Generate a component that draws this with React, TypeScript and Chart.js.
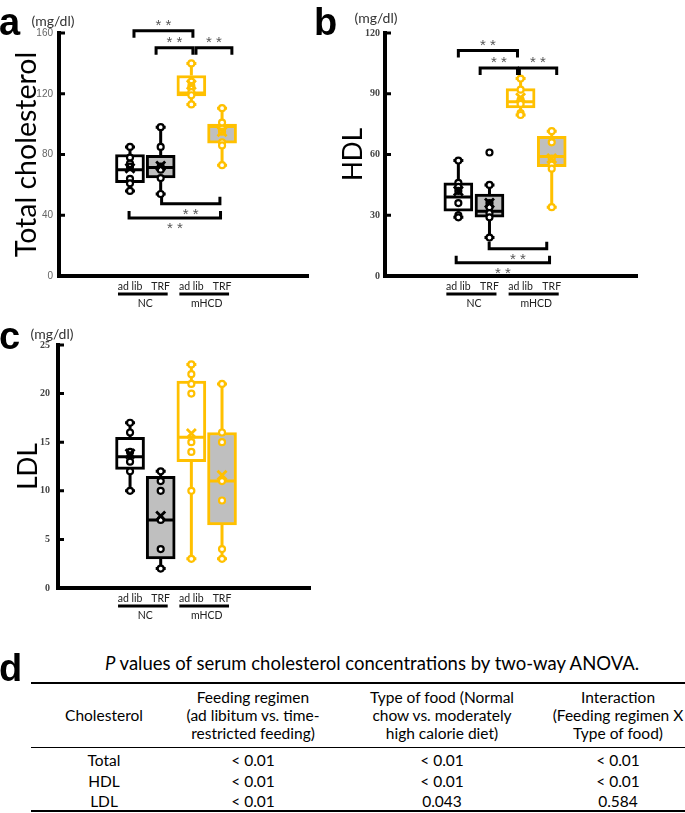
import React, { useEffect, useRef } from "react";
import { Chart, registerables } from "chart.js";

Chart.register(...registerables);

// ---------- categories ----------
const feedingLabels = ["ad lib", "TRF", "ad lib", "TRF"];
const dietLabels = ["NC", "mHCD"];

// ---------- Total cholesterol (mg/dl) ----------
const totalMin = [56, 54, 113, 73];
const totalQ1 = [61.5, 64.5, 118.5, 87.5];
const totalMedian = [70, 71.5, 120.5, 98.5];
const totalQ3 = [80, 79.5, 132, 100];
const totalMax = [85, 98, 140, 110.5];
const totalMean = [71, 72.5, 126, 95];
const totalPoints = [
  [85, 78, 74, 72, 64, 61, 56],
  [98, 85, 72, 70, 64.5, 54],
  [140, 128, 125, 121, 119, 113],
  [110.5, 101, 97, 95, 88, 86, 73],
];
const totalTicks = [0, 40, 80, 120, 160];
// [from group, to group, level (mg/dl), side (1 above, -1 below)]
const totalBrackets = [
  [0.13, 2.05, 161.5, 1],
  [0.85, 2.05, 150.3, 1],
  [2.15, 3.32, 150.3, 1],
  [1.03, 2.93, 47.5, -1],
  [-0.03, 2.95, 38.2, -1],
];

// ---------- HDL (mg/dl) ----------
const hdlMin = [29, 19, 79.5, 34];
const hdlQ1 = [32, 29, 83, 54];
const hdlMedian = [39, 32, 86, 59];
const hdlQ3 = [46, 40.5, 92.5, 69];
const hdlMax = [57, 45, 97.5, 71.5];
const hdlMean = [42, 36, 88, 58];
const hdlPoints = [
  [57, 46, 44, 42, 36, 30, 29],
  [61, 45, 36, 34, 31, 29, 19],
  [97.5, 92, 87, 85, 80.5, 79.5],
  [71.5, 66, 58, 55, 53, 34],
];
const hdlTicks = [0, 30, 60, 90, 120];
const hdlBrackets = [
  [0, 1.9, 111.4, 1],
  [0.7, 1.9, 102.7, 1],
  [1.96, 3.16, 102.7, 1],
  [0.99, 2.84, 13.4, -1],
  [-0.07, 2.93, 6.6, -1],
];

// ---------- LDL (mg/dl) ----------
const ldlMin = [10, 2, 3, 3];
const ldlQ1 = [12.2, 3, 13, 6.5];
const ldlMedian = [13.5, 7, 15.5, 11];
const ldlQ3 = [15.5, 11.5, 21.3, 16];
const ldlMax = [17, 12, 23, 21];
const ldlMean = [13.8, 7.4, 15.9, 11.6];
const ldlPoints = [
  [17, 16, 14, 13, 12, 10],
  [12, 11, 10, 7, 4, 2],
  [23, 22, 21, 20, 15, 14, 10, 3],
  [21, 16, 15, 11, 9, 4, 3],
];
const ldlTicks = [0, 5, 10, 15, 20, 25];
const ldlBrackets: number[][] = [];

// ---------- table (d) ----------
const tableTitleItalic = "P";
const tableTitleRest = " values of serum cholesterol concentrations by two-way ANOVA.";
const tableHeaders = [
  ["Cholesterol"],
  ["Feeding regimen", "(ad libitum vs. time-", "restricted feeding)"],
  ["Type of food (Normal", "chow vs. moderately", "high calorie diet)"],
  ["Interaction", "(Feeding regimen X", "Type of food)"],
];
const tableRows = ["Total", "HDL", "LDL"];
const pFeeding = ["< 0.01", "< 0.01", "< 0.01"];
const pFood = ["< 0.01", "< 0.01", "0.043"];
const pInteraction = ["< 0.01", "< 0.01", "0.584"];

// ---------- styles ----------
const boxFills = ["#ffffff", "#bfbfbf", "#ffffff", "#bfbfbf"];
const boxEdges = ["#000000", "#000000", "#ffc000", "#ffc000"];
const FONT = "Lato, 'Open Sans', sans-serif";

type Spec = {
  left: number; top: number; w: number; h: number;
  plotLeft: number; plotRight: number; plotTop: number; plotBottom: number;
  xMin: number; xMax: number; yMax: number; ticks: number[];
  title: string; titleSize: number; titlePad: number;
  tickFont: any; tickColor: string; tickPad: number;
  min: number[]; q1: number[]; med: number[]; q3: number[]; max: number[]; mean: number[];
  points: number[][]; brackets: number[][];
};

const CAP = 5;
const HALF = 13;

function makePlugin(s: Spec) {
  return {
    id: "boxplotExtras",
    afterDatasetDraw(chart: any, args: any) {
      if (args.index !== 0) return;
      const ctx = chart.ctx;
      const xs = chart.scales.x;
      const ys = chart.scales.y;
      const p = (v: number) => ys.getPixelForValue(v);
      ctx.save();
      ctx.lineWidth = 3;
      s.q1.forEach((_, i) => {
        const cx = xs.getPixelForValue(i);
        ctx.strokeStyle = boxEdges[i];
        ctx.beginPath();
        ctx.moveTo(cx, p(s.max[i])); ctx.lineTo(cx, p(s.q3[i]));
        ctx.moveTo(cx, p(s.q1[i])); ctx.lineTo(cx, p(s.min[i]));
        ctx.moveTo(cx - CAP, p(s.max[i])); ctx.lineTo(cx + CAP, p(s.max[i]));
        ctx.moveTo(cx - CAP, p(s.min[i])); ctx.lineTo(cx + CAP, p(s.min[i]));
        ctx.moveTo(cx - HALF, p(s.med[i])); ctx.lineTo(cx + HALF, p(s.med[i]));
        ctx.stroke();
      });
      ctx.restore();
    },
    afterDatasetsDraw(chart: any) {
      const ctx = chart.ctx;
      const xs = chart.scales.x;
      const ys = chart.scales.y;
      const area = chart.chartArea;
      const p = (v: number) => ys.getPixelForValue(v);
      ctx.save();
      // mean markers
      ctx.lineWidth = 2.8;
      s.mean.forEach((m, i) => {
        const cx = xs.getPixelForValue(i);
        const cy = p(m);
        ctx.strokeStyle = boxEdges[i];
        ctx.beginPath();
        ctx.moveTo(cx - 4.5, cy - 4.5); ctx.lineTo(cx + 4.5, cy + 4.5);
        ctx.moveTo(cx + 4.5, cy - 4.5); ctx.lineTo(cx - 4.5, cy + 4.5);
        ctx.stroke();
      });
      // inner tick marks
      ctx.strokeStyle = "#000";
      ctx.lineWidth = 3;
      ctx.beginPath();
      ys.ticks.forEach((t: any) => {
        if (t.value === 0) return;
        const py = p(t.value);
        ctx.moveTo(area.left, py); ctx.lineTo(area.left + 6, py);
      });
      ctx.stroke();
      // significance brackets
      ctx.font = "15px 'Liberation Sans'";
      ctx.fillStyle = "#555";
      ctx.textAlign = "center";
      ctx.textBaseline = "middle";
      s.brackets.forEach((b) => {
        const x1 = xs.getPixelForValue(b[0]);
        const x2 = xs.getPixelForValue(b[1]);
        const yb = p(b[2]);
        const leg = b[3] > 0 ? 7 : -7;
        ctx.beginPath();
        ctx.moveTo(x1, yb + leg); ctx.lineTo(x1, yb); ctx.lineTo(x2, yb); ctx.lineTo(x2, yb + leg);
        ctx.stroke();
        ctx.fillText("* *", (x1 + x2) / 2, yb - (b[3] > 0 ? 5 : -11));
      });
      // category labels
      ctx.fillStyle = "#222";
      ctx.font = `10.5px ${FONT}`;
      feedingLabels.forEach((lab, i) => {
        ctx.fillText(lab, xs.getPixelForValue(i), area.bottom + 11);
      });
      ctx.lineWidth = 2.8;
      dietLabels.forEach((lab, k) => {
        const a = xs.getPixelForValue(2 * k);
        const b = xs.getPixelForValue(2 * k + 1);
        ctx.beginPath();
        ctx.moveTo(a - 12, area.bottom + 18); ctx.lineTo(b + 7, area.bottom + 18);
        ctx.stroke();
        ctx.fillText(lab, (a + b) / 2, area.bottom + 28);
      });
      ctx.restore();
    },
  };
}

function BoxPanel({ s }: { s: Spec }) {
  const ref = useRef<HTMLCanvasElement>(null);
  useEffect(() => {
    const cfg: any = {
      type: "bar",
      data: {
        datasets: [
          {
            type: "bar",
            data: s.q1.map((q, i) => ({ x: i, y: [q, s.q3[i]] })),
            backgroundColor: boxFills,
            borderColor: boxEdges,
            borderWidth: 3,
            borderSkipped: false,
            barThickness: 29,
            order: 2,
          },
          ...s.points.map((pts, i) => ({
            type: "scatter",
            data: pts.map((v) => ({ x: i, y: v })),
            pointRadius: 3,
            pointBorderWidth: 2.2,
            borderColor: boxEdges[i],
            backgroundColor: "#ffffff",
            showLine: false,
            order: 1,
          })),
        ],
      },
      options: {
        responsive: false,
        animation: false,
        devicePixelRatio: 1,
        events: [],
        layout: { padding: { left: 0, top: s.plotTop, right: s.w - s.plotRight, bottom: 0 } },
        plugins: { legend: { display: false }, tooltip: { enabled: false }, title: { display: false } },
        scales: {
          x: {
            type: "linear",
            min: s.xMin,
            max: s.xMax,
            offset: false,
            grid: { display: false, drawTicks: false },
            ticks: { display: false },
            border: { display: true, color: "#000", width: 4 },
            afterFit: (sc: any) => { sc.height = s.h - s.plotBottom; },
          },
          y: {
            type: "linear",
            min: 0,
            max: s.yMax,
            afterBuildTicks: (sc: any) => { sc.ticks = s.ticks.map((v) => ({ value: v })); },
            ticks: { font: s.tickFont, color: s.tickColor, padding: s.tickPad },
            grid: { display: false, drawTicks: false },
            border: { display: true, color: "#000", width: 4 },
            title: {
              display: true,
              text: s.title,
              font: { family: FONT, size: s.titleSize },
              color: "#000",
              padding: { top: s.titlePad, bottom: 0 },
            },
            afterFit: (sc: any) => { sc.width = s.plotLeft; },
          },
        },
      },
      plugins: [makePlugin(s)],
    };
    const chart = new Chart(ref.current as HTMLCanvasElement, cfg);
    return () => chart.destroy();
  }, []);
  return (
    <canvas
      ref={ref}
      width={s.w}
      height={s.h}
      style={{ position: "absolute", left: s.left, top: s.top, width: s.w, height: s.h }}
    />
  );
}

const panelA: Spec = {
  left: 0, top: 0, w: 320, h: 320,
  plotLeft: 59, plotRight: 308, plotTop: 33, plotBottom: 276,
  xMin: -2.313, xMax: 5.8, yMax: 160, ticks: totalTicks,
  title: "Total cholesterol", titleSize: 28.5, titlePad: 10,
  tickFont: { family: "'Liberation Sans'", size: 10 }, tickColor: "#666", tickPad: 6,
  min: totalMin, q1: totalQ1, med: totalMedian, q3: totalQ3, max: totalMax, mean: totalMean,
  points: totalPoints, brackets: totalBrackets,
};

const panelB: Spec = {
  left: 320, top: 0, w: 340, h: 320,
  plotLeft: 65, plotRight: 317, plotTop: 33, plotBottom: 276,
  xMin: -2.357, xMax: 5.74, yMax: 120, ticks: hdlTicks,
  title: "HDL", titleSize: 26, titlePad: 18,
  tickFont: { family: "'Liberation Serif'", size: 10, weight: "bold" }, tickColor: "#444", tickPad: 5,
  min: hdlMin, q1: hdlQ1, med: hdlMedian, q3: hdlQ3, max: hdlMax, mean: hdlMean,
  points: hdlPoints, brackets: hdlBrackets,
};

const panelC: Spec = {
  left: 0, top: 320, w: 320, h: 310,
  plotLeft: 58, plotRight: 310, plotTop: 25, plotBottom: 268,
  xMin: -2.35, xMax: 5.87, yMax: 25, ticks: ldlTicks,
  title: "LDL", titleSize: 26, titlePad: 13.5,
  tickFont: { family: "'Liberation Serif'", size: 10, weight: "bold" }, tickColor: "#444", tickPad: 8,
  min: ldlMin, q1: ldlQ1, med: ldlMedian, q3: ldlQ3, max: ldlMax, mean: ldlMean,
  points: ldlPoints, brackets: ldlBrackets,
};

function Txt({ x, y, w = 200, size = 15.5, children, style }: any) {
  return (
    <div
      style={{
        position: "absolute", left: x - w / 2, top: y - 10, width: w, height: 20,
        lineHeight: "20px", textAlign: "center", fontSize: size, whiteSpace: "nowrap",
        color: "#000", ...style,
      }}
    >
      {children}
    </div>
  );
}

const letterStyle: any = {
  position: "absolute", fontFamily: "'Liberation Sans', Arial, sans-serif", fontWeight: "bold",
  fontSize: 38, lineHeight: "38px", color: "#000",
};

const colCenters = [104, 253, 442, 618];
const headerLineY = [697, 715, 733];
const rowY = [760, 781, 801];

export default function App() {
  const valueCols = [pFeeding, pFood, pInteraction];
  return (
    <div
      style={{
        position: "absolute", left: 0, top: 0, width: 685, height: 813, overflow: "hidden",
        background: "#fff", fontFamily: FONT,
      }}
    >
      <BoxPanel s={panelA} />
      <BoxPanel s={panelB} />
      <BoxPanel s={panelC} />

      <div style={{ ...letterStyle, left: -1, top: 3 }}>a</div>
      <div style={{ ...letterStyle, left: 314, top: 3 }}>b</div>
      <div style={{ ...letterStyle, left: -1, top: 317 }}>c</div>
      <div style={{ ...letterStyle, left: -1, top: 649 }}>d</div>

      <Txt x={53} y={21} w={80} size={14} style={{ color: "#333" }}>(mg/dl)</Txt>
      <Txt x={376} y={18} w={80} size={14} style={{ color: "#333" }}>(mg/dl)</Txt>
      <Txt x={52} y={334} w={80} size={14} style={{ color: "#333" }}>(mg/dl)</Txt>

      <Txt x={372} y={663} w={660} size={18.5}>
        <i>{tableTitleItalic}</i>{tableTitleRest}
      </Txt>

      <div style={{ position: "absolute", left: 31, top: 682, width: 654, height: 2, background: "#000" }} />
      <div style={{ position: "absolute", left: 31, top: 747, width: 654, height: 1, background: "#000" }} />
      <div style={{ position: "absolute", left: 31, top: 810, width: 654, height: 2, background: "#000" }} />

      {tableHeaders.map((lines, c) =>
        lines.map((ln, k) => (
          <Txt key={`h${c}-${k}`} x={colCenters[c]} y={lines.length === 1 ? headerLineY[1] : headerLineY[k]} w={200}>
            {ln}
          </Txt>
        ))
      )}
      {tableRows.map((r, i) => (
        <Txt key={`r${i}`} x={colCenters[0]} y={rowY[i]} w={140}>{r}</Txt>
      ))}
      {valueCols.map((col, c) =>
        col.map((v, i) => (
          <Txt key={`v${c}-${i}`} x={colCenters[c + 1]} y={rowY[i]} w={140}>{v}</Txt>
        ))
      )}
    </div>
  );
}
